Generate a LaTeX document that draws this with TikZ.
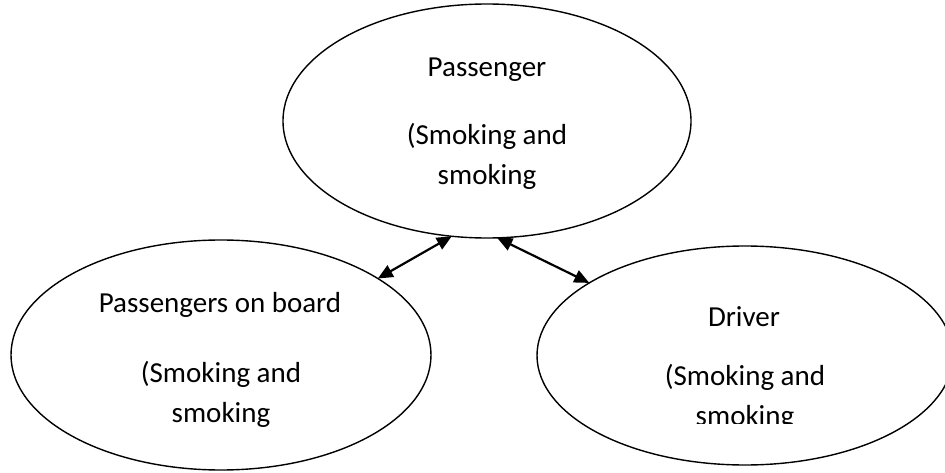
\documentclass[tikz,border=0pt]{standalone}
\usepackage{fontspec}
\setmainfont{Carlito}
\usetikzlibrary{arrows.meta,shapes.geometric}
\begin{document}
\begin{tikzpicture}[x=1pt,y=-1pt,
  bubble/.style={draw, ellipse, line width=1.4pt, inner sep=0pt, outer sep=0pt},
  caption/.style={anchor=base, inner sep=0pt, font=\fontsize{29}{35}\selectfont},
  link/.style={line width=2.2pt,
    {Triangle[length=15pt,width=13pt]}-{Triangle[length=15pt,width=13pt]}}]
  % canvas
  \fill[white] (0,0) rectangle (945,473);
  \useasboundingbox (0,0) rectangle (945,473);

  % the three actors
  \node[bubble, minimum width=408pt, minimum height=234pt] (top) at (487,121) {};
  \node[bubble, minimum width=420pt, minimum height=230pt] (left) at (221,355) {};
  \node[bubble, minimum width=416pt, minimum height=219pt] (right) at (745,355.5) {};

  % texts of the top ellipse
  \node[caption] (topA) at (487,77) {Passenger};
  \node[caption] (topB) at (487,145) {(Smoking and};
  \node[caption] (topC) at (487,185) {smoking};

  % texts of the left ellipse
  \node[caption] (leftA) at (220,312) {Passengers on board};
  \node[caption] (leftB) at (221,382) {(Smoking and};
  \node[caption] (leftC) at (221,422) {smoking};

  % texts of the right ellipse; the last line is cut at its foot
  \node[caption] (rightA) at (744,326) {Driver};
  \node[caption] (rightB) at (745,385) {(Smoking and};
  \begin{scope}
    \clip (600,390) rectangle (900,423);
    \node[caption] (rightC) at (745,425.5) {smoking};
  \end{scope}

  % two-way links
  \draw[link] (left.26) -- (top.253);
  \draw[link] (top.275) -- (right.155);
\end{tikzpicture}
\end{document}
